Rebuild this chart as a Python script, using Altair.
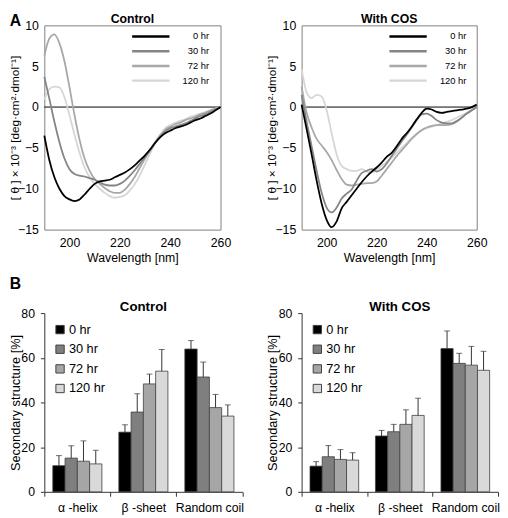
import altair as alt
import pandas as pd

FONT = "Liberation Sans"

# ---------------- Panel A: CD spectra ----------------
wavelength = [190, 192, 194, 196, 198, 200, 202, 204, 206, 208, 210, 212, 214, 216, 218, 220,
              222, 224, 226, 228, 230, 232, 234, 236, 238, 240, 242, 244, 246, 248, 250, 252,
              254, 256, 258, 260]

ctrl_0hr = [-3.5, -6.5, -8.6, -10.0, -10.9, -11.3, -11.5, -11.3, -10.7, -10.0, -9.4, -9.1, -9.0, -8.9, -8.6, -8.3,
            -8.0, -7.6, -7.1, -6.5, -5.9, -5.2, -4.4, -3.7, -3.2, -2.9, -2.6, -2.4, -2.2, -1.9, -1.6, -1.4,
            -1.1, -0.8, -0.4, 0.0]
ctrl_30hr = [3.7, 1.0, -1.8, -4.3, -6.3, -7.6, -8.2, -8.4, -8.5, -8.7, -8.9, -9.2, -9.5, -9.6, -9.6, -9.4,
             -9.0, -8.4, -7.7, -6.9, -6.1, -5.3, -4.4, -3.6, -3.0, -2.6, -2.4, -2.2, -2.0, -1.7, -1.4, -1.1,
             -0.9, -0.6, -0.3, 0.0]
ctrl_72hr = [6.3, 8.4, 8.9, 7.8, 5.6, 2.4, -1.0, -4.0, -6.3, -7.8, -8.8, -9.4, -9.9, -10.3, -10.5, -10.5,
             -10.1, -9.4, -8.5, -7.4, -6.3, -5.3, -4.3, -3.5, -2.8, -2.4, -2.1, -1.9, -1.6, -1.4, -1.2, -0.9,
             -0.7, -0.4, -0.2, 0.0]
ctrl_120hr = [0.9, 2.2, 2.5, 2.4, 1.2, -1.0, -3.4, -5.6, -7.4, -8.6, -9.4, -10.0, -10.5, -10.9, -11.1, -11.0,
              -10.8, -10.2, -9.4, -8.3, -7.0, -5.7, -4.4, -3.4, -2.6, -2.2, -1.9, -1.7, -1.5, -1.2, -1.0, -0.8,
              -0.6, -0.4, -0.2, 0.0]

cos_0hr = [0.3, -2.7, -5.8, -9.0, -11.8, -13.8, -14.7, -14.0, -12.4, -11.6, -10.8, -10.0, -9.2, -8.5, -7.9, -7.4,
           -6.8, -6.1, -5.6, -4.8, -3.9, -3.2, -2.4, -1.5, -0.7, -0.2, -0.3, -0.6, -0.7, -0.6, -0.5, -0.4,
           -0.3, -0.2, 0.0, 0.3]
cos_30hr = [1.5, -1.8, -4.8, -7.8, -10.5, -12.3, -12.9, -12.3, -11.2, -10.6, -10.1, -9.0, -8.1, -7.8, -7.6, -7.9,
            -7.6, -6.9, -6.0, -5.1, -4.2, -3.4, -2.5, -1.6, -0.9, -0.8, -1.1, -1.6, -1.9, -2.0, -2.0, -1.7,
            -1.3, -0.8, -0.4, 0.0]
cos_72hr = [2.5, -0.7, -2.5, -3.9, -4.7, -5.5, -6.5, -7.7, -8.8, -9.5, -9.6, -9.5, -9.4, -9.3, -9.3, -9.1,
            -8.4, -7.6, -6.8, -6.0, -5.3, -4.6, -3.9, -3.3, -2.8, -2.5, -2.3, -2.2, -2.2, -2.2, -2.1, -1.8,
            -1.3, -0.8, -0.4, 0.0]
cos_120hr = [4.7, 1.8, 1.1, 1.5, 1.3, -0.4, -3.2, -5.8, -7.2, -7.6, -7.8, -7.8, -7.6, -7.9, -8.0, -7.7,
             -7.2, -6.7, -6.2, -5.6, -5.0, -4.4, -3.8, -3.3, -2.9, -2.6, -2.4, -2.2, -2.0, -1.8, -1.6, -1.3,
             -1.0, -0.7, -0.3, 0.0]

series = ["0 hr", "30 hr", "72 hr", "120 hr"]
line_colors = ["#000000", "#858585", "#a8a8a8", "#d6d6d6"]
y_ticks_a = [10, 5, 0, -5, -10, -15]
x_ticks_a = [200, 220, 240, 260]

# ---------------- Panel B: secondary structure ----------------
categories = ["\u03b1 -helix", "\u03b2 -sheet", "Random coil"]
bar_colors = ["#000000", "#7f7f7f", "#a6a6a6", "#d9d9d9"]

ctrl_mean = [[11.7, 26.7, 63.9],   # 0 hr
             [15.1, 35.7, 51.4],   # 30 hr
             [13.7, 48.3, 37.7],   # 72 hr
             [12.5, 54.0, 33.9]]   # 120 hr
ctrl_sd = [[4.5, 3.3, 3.8],
           [5.5, 8.2, 6.7],
           [9.1, 4.4, 5.9],
           [6.1, 9.7, 5.0]]
cos_mean = [[11.5, 25.0, 64.1],
            [15.7, 26.9, 57.5],
            [14.5, 30.2, 56.7],
            [14.2, 34.2, 54.4]]
cos_sd = [[2.0, 2.5, 7.9],
          [5.0, 3.3, 4.5],
          [4.4, 6.5, 8.4],
          [3.3, 7.7, 8.5]]
y_ticks_b = [0, 20, 40, 60, 80]

Y_TITLE_A = "[ \u03b8 ] \u00d7 10\u207b\u00b3  [deg\u00b7cm\u00b2\u00b7dmol\u207b\u00b9]"
Y_TITLE_B = "Secondary structure [%]"
X_TITLE_A = "Wavelength [nm]"


def letter_layer(letter, y):
    return alt.Chart(pd.DataFrame({"label": [letter]})).mark_text(
        fontSize=16, fontWeight="bold", align="left", baseline="top", font=FONT, color="black"
    ).encode(text="label:N", x=alt.value(-35.3), y=alt.value(y))


def cd_panel(title, curves, width, extras=(), title_offset=-6.25):
    rows = []
    for s, vals in reversed(list(zip(series, curves))):
        for w, v in zip(wavelength, vals):
            rows.append({"wavelength": w, "value": v, "series": s})
    df = pd.DataFrame(rows)
    zero = alt.Chart(pd.DataFrame({"zero": [0]})).mark_rule(color="black", strokeWidth=1).encode(
        y=alt.Y("zero:Q", title=Y_TITLE_A)
    )
    lines = alt.Chart(df).mark_line(strokeWidth=1.8, interpolate="monotone").encode(
        x=alt.X("wavelength:Q", scale=alt.Scale(domain=[190, 260], nice=False, zero=False),
                axis=alt.Axis(values=x_ticks_a, title=X_TITLE_A, grid=False, ticks=False,
                              domain=False, labelFontSize=12.5, labelPadding=7, labelFlush=False,
                              titleFontSize=12.5, titleFontWeight="normal", titleY=22,
                              titleBaseline="top")),
        y=alt.Y("value:Q", scale=alt.Scale(domain=[-15, 10], nice=False, zero=False),
                title=Y_TITLE_A,
                axis=alt.Axis(values=y_ticks_a, grid=False, ticks=False, domain=False,
                              labelFontSize=12.5, labelPadding=6, labelFlush=False,
                              titleFontSize=12, titleFontWeight="normal",
                              titleX=-23.3, titleY=104, titleAngle=270, titleBaseline="bottom",
                              titleAlign="center")),
        color=alt.Color("series:N", sort=series,
                        scale=alt.Scale(domain=series, range=line_colors),
                        legend=alt.Legend(title=None, orient="none", legendX=102.4, legendY=5.3,
                                          symbolType="M-4,0H4", symbolSize=90.25, symbolStrokeWidth=2.5,
                                          labelAlign="right", labelOffset=53.3, labelFontSize=9.5,
                                          rowPadding=4, padding=0)),
    )
    layers = [zero, lines] + list(extras)
    return alt.layer(*layers).properties(
        width=width, height=208,
        title=alt.TitleParams(text=title, fontSize=12.5, fontWeight="bold", offset=title_offset, font=FONT),
        view=alt.ViewBackground(stroke="#7f7f7f", strokeWidth=1),
    )


def bar_panel(title, means, sds, width):
    rows = []
    for ti, t in enumerate(series):
        for ci, c in enumerate(categories):
            rows.append({"category": c, "time": t, "mean": means[ti][ci],
                         "top": means[ti][ci] + sds[ti][ci]})
    df = pd.DataFrame(rows)
    base = alt.Chart(df).encode(
        x=alt.X("category:N", sort=categories, scale=alt.Scale(paddingInner=0, paddingOuter=0),
                axis=alt.Axis(title=None, labelAngle=0, tickBand="extent", ticks=True, tickSize=4.5,
                              tickColor="#333333", domainColor="#333333", labelFontSize=12.5,
                              labelPadding=5.5, grid=False)),
        xOffset=alt.XOffset("time:N", sort=series,
                            scale=alt.Scale(domain=series, paddingInner=0, paddingOuter=0.69)),
    )
    bars = base.mark_bar(stroke="#404040", strokeWidth=0.8).encode(
        y=alt.Y("mean:Q", scale=alt.Scale(domain=[0, 80], nice=False), title=Y_TITLE_B,
                axis=alt.Axis(values=y_ticks_b, grid=False, ticks=True,
                              tickSize=4, tickColor="#333333", domainColor="#333333",
                              labelFontSize=12.5, labelPadding=6, titleFontSize=13,
                              titleFontWeight="normal", titleX=-22.3, titleY=91, titleAngle=270,
                              titleBaseline="bottom", titleAlign="center")),
        color=alt.Color("time:N", sort=series, scale=alt.Scale(domain=series, range=bar_colors),
                        legend=alt.Legend(title=None, orient="none", legendX=9.5, legendY=10.3,
                                          symbolType="square", symbolSize=72,
                                          symbolStrokeColor="#404040", symbolStrokeWidth=1,
                                          labelFontSize=13, labelOffset=2.5, rowPadding=6,
                                          padding=0)),
    )
    err = base.mark_rule(color="#333333", strokeWidth=1).encode(
        y=alt.Y("mean:Q", title=Y_TITLE_B), y2="top:Q"
    )
    caps = base.mark_tick(color="#333333", thickness=1, size=6).encode(
        y=alt.Y("top:Q", title=Y_TITLE_B)
    )
    return alt.layer(bars, err, caps).properties(
        width=width, height=182,
        title=alt.TitleParams(text=title, fontSize=13.5, fontWeight="bold", offset=-6.75, font=FONT),
    )


a1 = cd_panel("Control", [ctrl_0hr, ctrl_30hr, ctrl_72hr, ctrl_120hr], 179.4,
              extras=[letter_layer("A", -12.5), letter_layer("B", 255.5)], title_offset=-12.5)
a2 = cd_panel("With COS", [cos_0hr, cos_30hr, cos_72hr, cos_120hr], 178.3)
b1 = bar_panel("Control", ctrl_mean, ctrl_sd, 201.7)
b2 = bar_panel("With COS", cos_mean, cos_sd, 200)

chart = alt.concat(
    a1, a2, b1, b2, columns=2, spacing={"row": 85, "column": 60}, bounds="flush", padding=0,
).resolve_scale(
    color="independent", xOffset="independent"
).resolve_legend(
    color="independent"
).configure(
    font=FONT
).configure_view(
    stroke=None
).configure_axis(
    labelColor="black", titleColor="black", labelFont=FONT, titleFont=FONT
).configure_legend(
    labelColor="black", labelFont=FONT
).configure_title(
    color="black", font=FONT
)

chart.save("out.html", embed_options={"renderer": "svg", "actions": False})
